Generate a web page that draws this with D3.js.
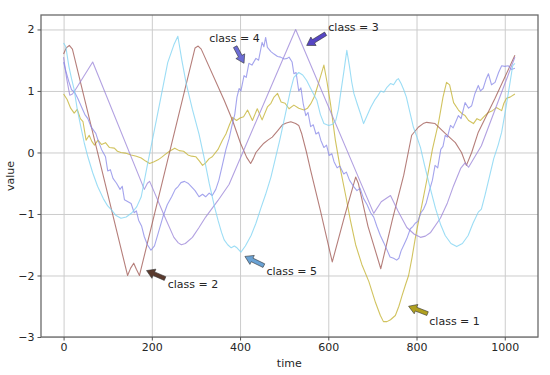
<!DOCTYPE html>
<html>
<head>
<meta charset="utf-8">
<script src="https://cdn.jsdelivr.net/npm/d3@7"></script>
<style>
  body { margin: 0; background: #fff; }
</style>
</head>
<body>
<div class="main"></div>
<script>
// Données : [time, value]
const class1 = [[0,0.95],[8,0.86],[16,0.72],[24,0.64],[31,0.70],[38,0.55],[44,0.5],[51,0.2],[58,0.28],[64,0.18],[70,0.12],[78,0.2],[86,0.13],[95,0.16],[104,0.08],[115,0.07],[122,0.02],[130,0.0],[140,-0.01],[153,-0.04],[165,-0.06],[176,-0.09],[186,-0.14],[195,-0.18],[205,-0.15],[214,-0.12],[222,-0.08],[229,-0.04],[240,0.02],[252,0.07],[262,0.03],[272,0.02],[282,-0.04],[290,-0.06],[300,-0.07],[308,-0.14],[315,-0.21],[322,-0.17],[330,-0.1],[337,-0.07],[350,0.05],[360,0.2],[368,0.3],[376,0.45],[383,0.57],[392,0.52],[400,0.56],[408,0.58],[417,0.69],[428,0.52],[439,0.71],[450,0.53],[462,0.74],[470,0.8],[477,0.9],[485,0.96],[493,0.82],[502,0.8],[511,0.71],[522,0.77],[533,0.72],[545,0.69],[553,0.72],[560,0.79],[568,0.9],[575,1.06],[583,1.25],[590,1.42],[597,1.15],[605,0.79],[616,0.2],[628,-0.29],[640,-0.72],[650,-1.1],[662,-1.5],[676,-1.82],[692,-2.1],[707,-2.44],[718,-2.65],[725,-2.75],[733,-2.75],[741,-2.72],[752,-2.65],[760,-2.5],[767,-2.33],[775,-2.15],[782,-2.0],[790,-1.7],[797,-1.4],[805,-1.1],[812,-0.86],[823,-0.46],[836,0.05],[850,0.49],[860,0.9],[868,1.14],[875,1.1],[884,0.81],[895,0.69],[903,0.63],[910,0.6],[918,0.52],[929,0.47],[937,0.55],[945,0.52],[955,0.6],[963,0.65],[972,0.68],[981,0.73],[993,0.68],[998,0.8],[1004,0.88],[1012,0.9],[1023,0.95]];
const class2 = [[0,1.6],[6,1.7],[13,1.74],[20,1.68],[145,-2.0],[152,-1.88],[159,-1.8],[165,-1.9],[172,-2.0],[298,1.7],[305,1.73],[312,1.68],[364,0.85],[383,0.52],[401,0.15],[415,-0.08],[424,-0.18],[430,-0.1],[436,0.0],[445,0.08],[454,0.15],[463,0.2],[473,0.25],[485,0.35],[496,0.45],[505,0.48],[515,0.5],[526,0.47],[533,0.44],[540,0.3],[550,0.02],[560,-0.29],[582,-0.94],[609,-1.78],[636,-1.06],[662,-0.4],[668,-0.5],[690,-1.2],[719,-1.89],[745,-1.1],[771,-0.37],[789,0.28],[804,0.41],[815,0.47],[823,0.49],[842,0.47],[865,0.31],[888,0.16],[902,0.0],[913,-0.21],[925,0.0],[940,0.33],[978,0.88],[1023,1.58]];
const class3 = [[0,1.55],[7,1.2],[14,0.93],[20,0.95],[25,1.0],[66,1.47],[183,-0.6],[190,-0.5],[195,-0.47],[203,-0.6],[229,-1.04],[250,-1.38],[260,-1.47],[267,-1.5],[276,-1.48],[292,-1.38],[307,-1.22],[322,-1.05],[350,-0.78],[375,-0.52],[526,2.0],[703,-0.99],[720,-0.8],[741,-0.7],[758,-0.95],[778,-1.22],[795,-1.33],[809,-1.38],[820,-1.36],[832,-1.3],[854,-1.07],[870,-0.82],[884,-0.54],[900,-0.26],[910,-0.17],[918,-0.24],[947,0.11],[1023,1.55]];
const class4 = [[0,1.47],[6,1.3],[12,1.15],[18,1.02],[25,0.98],[32,0.88],[40,0.75],[48,0.62],[55,0.55],[62,0.42],[68,0.36],[73,0.31],[78,0.2],[86,0.05],[95,-0.07],[100,-0.3],[106,-0.28],[112,-0.42],[120,-0.5],[128,-0.6],[133,-0.55],[138,-0.77],[146,-0.8],[153,-0.83],[160,-0.98],[165,-0.95],[170,-1.1],[177,-1.2],[183,-1.37],[190,-1.5],[198,-1.59],[206,-1.52],[215,-1.3],[225,-1.05],[235,-0.85],[245,-0.72],[253,-0.6],[260,-0.55],[266,-0.49],[274,-0.47],[282,-0.5],[289,-0.55],[298,-0.62],[307,-0.72],[315,-0.68],[322,-0.72],[330,-0.66],[337,-0.7],[345,-0.6],[352,-0.45],[360,-0.2],[368,0.05],[375,0.22],[382,0.45],[388,0.62],[393,0.9],[398,1.04],[402,1.0],[409,1.25],[414,1.22],[420,1.45],[427,1.42],[436,1.53],[442,1.5],[450,1.79],[454,1.72],[458,1.87],[462,1.71],[470,1.64],[477,1.6],[485,1.56],[492,1.55],[500,1.52],[507,1.53],[511,1.55],[518,1.47],[522,1.28],[527,1.3],[533,1.0],[538,1.05],[543,0.8],[549,0.6],[554,0.65],[560,0.42],[566,0.45],[572,0.3],[578,0.33],[583,0.2],[590,0.08],[596,0.12],[602,-0.05],[608,-0.02],[613,-0.15],[620,-0.25],[626,-0.22],[635,-0.35],[641,-0.32],[648,-0.45],[657,-0.55],[665,-0.62],[672,-0.58],[680,-0.75],[688,-0.85],[696,-0.98],[703,-1.05],[710,-1.2],[718,-1.35],[726,-1.47],[734,-1.6],[740,-1.7],[748,-1.72],[755,-1.75],[760,-1.72],[765,-1.6],[771,-1.51],[778,-1.4],[786,-1.24],[792,-1.2],[797,-1.15],[803,-1.12],[810,-0.98],[816,-0.92],[822,-0.82],[830,-0.6],[836,-0.45],[842,-0.21],[848,-0.25],[855,0.05],[860,0.1],[865,0.28],[870,0.25],[877,0.44],[883,0.4],[895,0.6],[901,0.55],[910,0.81],[918,0.72],[925,0.76],[932,0.95],[940,1.09],[945,1.0],[951,1.04],[958,1.2],[963,1.28],[970,1.1],[978,1.14],[986,1.3],[993,1.41],[1000,1.4],[1008,1.41],[1015,1.35],[1023,1.37]];
const class5 = [[0,1.78],[5,1.72],[12,1.4],[18,1.2],[24,1.02],[31,0.7],[39,0.42],[47,0.15],[55,-0.07],[66,-0.33],[77,-0.55],[90,-0.75],[100,-0.87],[108,-0.93],[118,-1.02],[130,-1.07],[142,-1.05],[155,-0.98],[166,-0.88],[176,-0.72],[190,-0.2],[206,0.37],[222,0.95],[236,1.46],[250,1.75],[259,1.89],[268,1.5],[278,1.12],[292,0.7],[307,0.3],[319,-0.1],[330,-0.5],[342,-0.88],[350,-1.1],[358,-1.3],[364,-1.42],[372,-1.5],[380,-1.55],[387,-1.52],[393,-1.55],[402,-1.62],[412,-1.52],[425,-1.35],[436,-1.15],[447,-0.91],[458,-0.68],[470,-0.4],[480,-0.1],[490,0.2],[502,0.6],[514,1.0],[522,1.22],[533,1.3],[542,1.26],[551,1.17],[563,1.0],[574,0.85],[582,0.62],[590,0.47],[601,0.44],[610,0.46],[617,0.52],[623,0.7],[628,0.96],[636,1.35],[642,1.66],[648,1.4],[653,1.15],[658,0.96],[666,0.78],[673,0.63],[680,0.47],[688,0.6],[696,0.73],[705,0.85],[712,0.92],[719,1.0],[726,0.98],[733,1.06],[741,1.12],[748,1.1],[755,1.18],[759,1.2],[765,1.12],[771,1.02],[777,0.9],[785,0.65],[793,0.41],[801,0.25],[809,0.08],[818,-0.2],[830,-0.55],[843,-0.91],[855,-1.18],[865,-1.35],[878,-1.48],[891,-1.53],[904,-1.48],[917,-1.35],[928,-1.15],[940,-0.97],[947,-0.92],[955,-0.7],[963,-0.46],[975,-0.1],[985,0.12],[993,0.33],[1002,0.7],[1012,1.14],[1018,1.41],[1023,1.45]];

const classes = ['1', '2', '3', '4', '5'];
const series = [class1, class2, class3, class4, class5];

const xTicks = [0, 200, 400, 600, 800, 1000];
const yTicks = [-3, -2, -1, 0, 1, 2];
const yTickLabels = ['\u22123', '\u22122', '\u22121', '0', '1', '2'];

// annotations : [pointe, queue, texte] en unités de données
const annTip = [[782, -2.5], [188, -1.92], [551, 1.74], [409, 1.45], [411, -1.69]];
const annTail = [[825, -2.62], [230, -2.05], [594, 1.93], [389, 1.72], [454, -1.84]];
const annText = [[829, -2.8], [236, -2.21], [600, 1.98], [330, 1.79], [460, -2.0]];

// Paramètres de la visualisation
const width = 550;
const height = 375;
const margin = { top: 15, right: 12, bottom: 38, left: 41 };

const lineColors = ['#c4b232', '#a05a55', '#9c86d8', '#8a8ae8', '#80d4f2'];
const arrowColors = ['#b0a020', '#5a3a2e', '#5646c4', '#6c6cd4', '#6aa2d4'];

const svg = d3.select('.main')
  .append('svg')
  .attr('width', width)
  .attr('height', height)
  .attr('style', 'font: 11px "DejaVu Sans", sans-serif');

const x = d3.scaleLinear()
  .domain([-51.2, 1074.2])
  .range([margin.left, width - margin.right - 0.5]);

const y = d3.scaleLinear()
  .domain([-3.0, 2.235])
  .range([height - margin.bottom, margin.top]);

// grille
svg.append('g')
  .attr('transform', `translate(0, ${height - margin.bottom})`)
  .call(d3.axisBottom(x).tickValues(xTicks).tickSize(-(height - margin.bottom - margin.top)).tickFormat(''))
  .call(g => g.select('.domain').remove())
  .call(g => g.selectAll('line').attr('stroke', '#cccccc').attr('stroke-width', 1));

svg.append('g')
  .attr('transform', `translate(${margin.left}, 0)`)
  .call(d3.axisLeft(y).tickValues(yTicks).tickSize(-(width - margin.left - margin.right)).tickFormat(''))
  .call(g => g.select('.domain').remove())
  .call(g => g.selectAll('line').attr('stroke', '#cccccc').attr('stroke-width', 1));

// courbes
const line = d3.line()
  .x(d => x(d[0]))
  .y(d => y(d[1]));

svg.append('g')
  .selectAll('path')
  .data(series)
  .enter()
  .append('path')
  .attr('d', line)
  .attr('fill', 'none')
  .attr('stroke', (d, i) => lineColors[i])
  .attr('stroke-width', 1.1)
  .attr('stroke-opacity', 0.78)
  .attr('stroke-linejoin', 'round');

// cadre
svg.append('rect')
  .attr('x', margin.left)
  .attr('y', margin.top)
  .attr('width', width - margin.right - margin.left)
  .attr('height', height - margin.bottom - margin.top)
  .attr('fill', 'none')
  .attr('stroke', '#6a6a6a')
  .attr('stroke-width', 1.3);

// axes
svg.append('g')
  .attr('transform', `translate(0, ${height - margin.bottom})`)
  .call(d3.axisBottom(x).tickValues(xTicks).tickSize(3.5).tickPadding(3).tickFormat(d3.format('d')))
  .call(g => g.select('.domain').remove())
  .call(g => g.selectAll('line').attr('stroke', '#555'))
  .call(g => g.selectAll('text').attr('fill', '#262626').style('font-size', '11px').style('font-family', '"DejaVu Sans", sans-serif'));

svg.append('g')
  .attr('transform', `translate(${margin.left}, 0)`)
  .call(d3.axisLeft(y).tickValues(yTicks).tickSize(3.5).tickPadding(3).tickFormat((d, i) => yTickLabels[i]))
  .call(g => g.select('.domain').remove())
  .call(g => g.selectAll('line').attr('stroke', '#555'))
  .call(g => g.selectAll('text').attr('fill', '#262626').style('font-size', '11px').style('font-family', '"DejaVu Sans", sans-serif'));

svg.append('text')
  .attr('x', (x.range()[0] + x.range()[1]) / 2)
  .attr('y', 367)
  .attr('text-anchor', 'middle')
  .attr('fill', '#262626')
  .text('time');

svg.append('text')
  .attr('transform', `translate(14, ${(y.range()[0] + y.range()[1]) / 2}) rotate(-90)`)
  .attr('text-anchor', 'middle')
  .attr('fill', '#262626')
  .text('value');

// flèches d'annotation
function arrowPoints(tip, tail) {
  const x1 = x(tail[0]), y1 = y(tail[1]);
  const x2 = x(tip[0]), y2 = y(tip[1]);
  const len = Math.hypot(x2 - x1, y2 - y1);
  const ux = (x2 - x1) / len, uy = (y2 - y1) / len;
  const px = -uy, py = ux;
  const hl = 8, hw = 5, sw = 2;
  const bx = x2 - ux * hl, by = y2 - uy * hl;
  const pts = [
    [x1 + px * sw, y1 + py * sw],
    [bx + px * sw, by + py * sw],
    [bx + px * hw, by + py * hw],
    [x2, y2],
    [bx - px * hw, by - py * hw],
    [bx - px * sw, by - py * sw],
    [x1 - px * sw, y1 - py * sw]
  ];
  return pts.map(p => p.join(',')).join(' ');
}

svg.append('g')
  .selectAll('polygon')
  .data(classes)
  .enter()
  .append('polygon')
  .attr('points', (d, i) => arrowPoints(annTip[i], annTail[i]))
  .attr('fill', (d, i) => arrowColors[i])
  .attr('stroke', '#333')
  .attr('stroke-width', 0.6)
  .attr('stroke-linejoin', 'miter');

svg.append('g')
  .selectAll('text')
  .data(classes)
  .enter()
  .append('text')
  .attr('x', (d, i) => x(annText[i][0]))
  .attr('y', (d, i) => y(annText[i][1]))
  .attr('fill', '#262626')
  .text(d => `class = ${d}`);
</script>
</body>
</html>
